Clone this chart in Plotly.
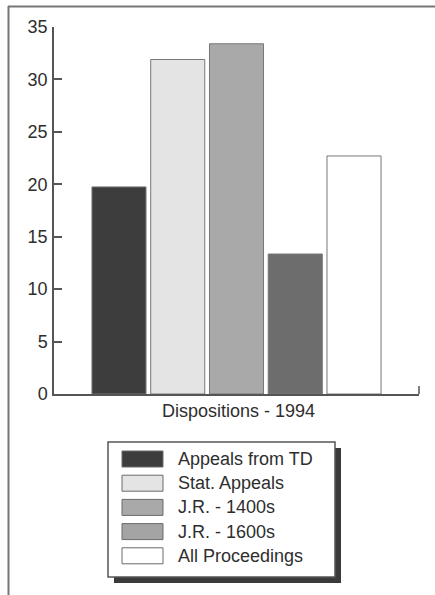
import plotly.graph_objects as go

# Dispositions in 1994 by proceeding type
categories = ["Appeals from TD", "Stat. Appeals", "J.R. - 1400s", "J.R. - 1600s", "All Proceedings"]
values = [19.75, 31.9, 33.4, 13.35, 22.7]
y_ticks = [0, 5, 10, 15, 20, 25, 30, 35]

bar_colors = ["#3d3d3d", "#e4e4e4", "#a9a9a9", "#6d6d6d", "#ffffff"]
legend_colors = ["#3d3d3d", "#e4e4e4", "#a9a9a9", "#a4a4a4", "#ffffff"]

W, H = 435, 595
ML, MR, MT, MB = 54, 16, 27, 201
PW, PH = W - ML - MR, H - MT - MB


def px(x):
    return (x - ML) / PW


def py(y):
    return (H - MB - y) / PH


fig = go.Figure()
fig.add_trace(go.Bar(
    x=list(range(len(categories))),
    y=values,
    width=0.92,
    marker=dict(color=bar_colors, line=dict(color="#777777", width=1)),
    showlegend=False,
    hoverinfo="y",
))

axis_col = "#555555"
text_col = "#2e2e2e"
fig.update_layout(
    width=W, height=H,
    margin=dict(l=ML, r=MR, t=MT, b=MB),
    paper_bgcolor="white", plot_bgcolor="white",
    font=dict(family="Liberation Sans, Arial, sans-serif", color=text_col),
    xaxis=dict(range=[-1.106, 5.106], showline=True, linecolor=axis_col, linewidth=1.5,
               showticklabels=False, ticks="", showgrid=False, zeroline=False, fixedrange=True),
    yaxis=dict(range=[0, 35], tickvals=y_ticks, ticks="inside", ticklen=8, tickwidth=1.5,
               tickcolor=axis_col, showline=True, linecolor=axis_col, linewidth=1.5,
               showgrid=False, zeroline=False, tickfont=dict(size=18, color=text_col),
               ticklabelstandoff=1),
)

shapes = []
# page frame (top and left edges)
shapes.append(dict(type="line", xref="paper", yref="paper", x0=px(8), x1=px(435), y0=py(6.5), y1=py(6.5),
                   line=dict(color="#777777", width=2)))
shapes.append(dict(type="line", xref="paper", yref="paper", x0=px(8.5), x1=px(8.5), y0=py(6), y1=py(595),
                   line=dict(color="#777777", width=2)))
# end tick on the right of the x axis
shapes.append(dict(type="line", xref="paper", yref="paper", x0=1, x1=1, y0=0, y1=py(386),
                   line=dict(color=axis_col, width=1.5)))

# legend box with drop shadow
lx0, lx1, ly0, ly1 = 108, 335, 442, 577
shapes.append(dict(type="rect", xref="paper", yref="paper", x0=px(lx0 + 6), x1=px(lx1 + 6),
                   y0=py(ly0 + 6), y1=py(ly1 + 6), fillcolor="#3a3a3a", line=dict(width=0)))
shapes.append(dict(type="rect", xref="paper", yref="paper", x0=px(lx0), x1=px(lx1),
                   y0=py(ly0), y1=py(ly1), fillcolor="white", line=dict(color="#555555", width=1.5)))

annotations = []
row_y0, row_step = 459, 24.2
for i, (name, col) in enumerate(zip(categories, legend_colors)):
    cy = row_y0 + i * row_step
    shapes.append(dict(type="rect", xref="paper", yref="paper", x0=px(122), x1=px(163),
                       y0=py(cy - 8), y1=py(cy + 8), fillcolor=col,
                       line=dict(color="#6a6a6a", width=1)))
    annotations.append(dict(xref="paper", yref="paper", x=px(176), y=py(cy), text=name,
                            showarrow=False, xanchor="left", yanchor="middle",
                            font=dict(size=18, color=text_col)))

annotations.append(dict(xref="paper", yref="paper", x=px(238), y=py(411), text="Dispositions - 1994",
                        showarrow=False, xanchor="center", yanchor="middle",
                        font=dict(size=18, color=text_col)))

fig.update_layout(shapes=shapes, annotations=annotations)
fig.write_html("out.html")
